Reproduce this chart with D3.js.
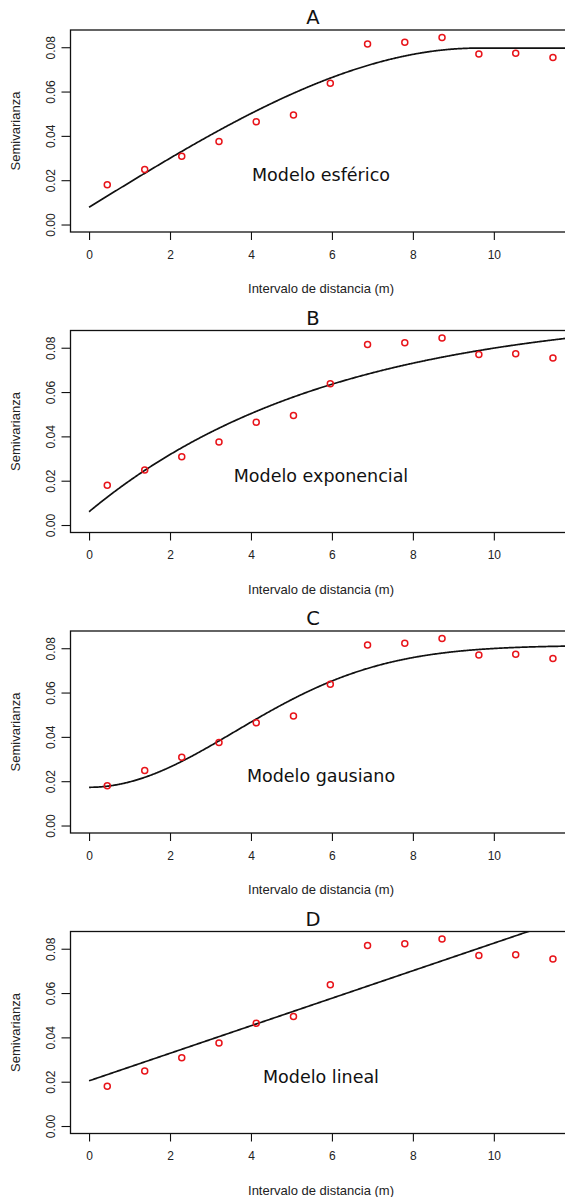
<!DOCTYPE html>
<html>
<head>
<meta charset="utf-8">
<script src="https://cdn.jsdelivr.net/npm/d3@7"></script>
<style>
  html, body { margin: 0; padding: 0; background: #fff; }
  svg { display: block; }
</style>
</head>
<body>
<svg id="chart" width="565" height="1197"></svg>
<script>
// Empirical semivariogram: lag distance (m) and semivariance
const lags = [0.45, 1.375, 2.29, 3.21, 4.13, 5.05, 5.96, 6.88, 7.80, 8.72, 9.63, 10.54, 11.46];
const semivariance = [0.0180, 0.0248, 0.0308, 0.0375, 0.0464, 0.0494, 0.0638, 0.0815, 0.0823, 0.0844, 0.0769, 0.0773, 0.0754];

// Fitted variogram models, one per panel
const panelTitles = ["A", "B", "C", "D"];
const modelNames = ["Modelo esférico", "Modelo exponencial", "Modelo gausiano", "Modelo lineal"];
const modelTypes = ["Sph", "Exp", "Gau", "Lin"];
const nugget = [0.0078, 0.0060, 0.01725, 0.0204];
const partialSill = [0.0718, 0.091, 0.064, 0];
const modelRange = [9.6, 6.0, 5.1, 0];
const linearSlope = [0, 0, 0, 0.00621];

// Axis ticks
const xTicks = [0, 2, 4, 6, 8, 10];
const yTicks = [0.00, 0.02, 0.04, 0.06, 0.08];

const xLabel = "Intervalo de distancia (m)";
const yLabel = "Semivarianza";

function variogram(type, i, h) {
  const c0 = nugget[i], c = partialSill[i], a = modelRange[i];
  if (type === "Sph") {
    if (h >= a) return c0 + c;
    const r = h / a;
    return c0 + c * (1.5 * r - 0.5 * r * r * r);
  }
  if (type === "Exp") return c0 + c * (1 - Math.exp(-h / a));
  if (type === "Gau") return c0 + c * (1 - Math.exp(-(h / a) * (h / a)));
  return c0 + linearSlope[i] * h;
}

const svg = d3.select("#chart");
const boxLeft = 70.5, boxRight = 571.5, boxHeight = 202;
const panelStep = 300.5, firstTop = 30;

// R-style 4% padding around the data range
const xMax = d3.max(lags), yMax = d3.max(semivariance);
const xDomain = [0 - 0.04 * xMax, xMax * 1.04];
const yDomain = [0 - 0.04 * yMax, yMax * 1.04];

const axisFont = "'Liberation Sans', Arial, Helvetica, sans-serif";
const textFont = "'DejaVu Sans', Verdana, sans-serif";

panelTitles.forEach((title, i) => {
  const top = firstTop + i * panelStep;
  const bottom = top + boxHeight;
  const x = d3.scaleLinear().domain(xDomain).range([boxLeft, boxRight]);
  const y = d3.scaleLinear().domain(yDomain).range([bottom, top]);

  const g = svg.append("g");

  const clipId = "clip" + i;
  svg.append("clipPath").attr("id", clipId)
    .append("rect")
    .attr("x", boxLeft).attr("y", top)
    .attr("width", boxRight - boxLeft).attr("height", boxHeight);

  // Model curve
  const hs = d3.range(0, xDomain[1] + 0.001, 0.02);
  const line = d3.line()
    .x(h => x(h))
    .y(h => y(variogram(modelTypes[i], i, h)));
  g.append("path")
    .attr("clip-path", `url(#${clipId})`)
    .attr("d", line(hs))
    .attr("fill", "none")
    .attr("stroke", "#111")
    .attr("stroke-width", 1.7);

  // Empirical points
  g.selectAll("circle.pt")
    .data(lags.map((l, k) => [l, semivariance[k]]))
    .join("circle")
    .attr("class", "pt")
    .attr("cx", d => x(d[0]))
    .attr("cy", d => y(d[1]))
    .attr("r", 3)
    .attr("fill", "none")
    .attr("stroke", "#e8141a")
    .attr("stroke-width", 1.5);

  // Plot box
  g.append("rect")
    .attr("x", boxLeft).attr("y", top)
    .attr("width", boxRight - boxLeft).attr("height", boxHeight)
    .attr("fill", "none")
    .attr("stroke", "#111")
    .attr("stroke-width", 1.3);

  // X axis
  const xAxis = d3.axisBottom(x).tickValues(xTicks).tickSize(8).tickPadding(10)
    .tickFormat(d3.format("d"));
  const gx = g.append("g").attr("transform", `translate(0,${bottom})`).call(xAxis);
  gx.select(".domain").remove();
  gx.selectAll(".tick line").attr("stroke", "#111").attr("stroke-width", 1.1);
  gx.selectAll(".tick text")
    .attr("font-family", axisFont).attr("font-size", 12).attr("fill", "#222");

  // Y axis
  const yAxis = d3.axisLeft(y).tickValues(yTicks).tickSize(9).tickFormat(d3.format(".2f"));
  const gy = g.append("g").attr("transform", `translate(${boxLeft},0)`).call(yAxis);
  gy.select(".domain").remove();
  gy.selectAll(".tick line").attr("stroke", "#111").attr("stroke-width", 1.1);
  gy.selectAll(".tick text")
    .attr("x", null).attr("dy", null)
    .attr("transform", `translate(-16,0) rotate(-90)`)
    .attr("text-anchor", "middle")
    .attr("font-family", axisFont).attr("font-size", 12).attr("fill", "#222");

  // Axis titles
  g.append("text")
    .attr("x", (boxLeft + boxRight) / 2).attr("y", top + 263)
    .attr("text-anchor", "middle")
    .attr("font-family", axisFont).attr("font-size", 13).attr("fill", "#222")
    .text(xLabel);
  g.append("text")
    .attr("transform", `translate(20,${top + boxHeight / 2}) rotate(-90)`)
    .attr("text-anchor", "middle")
    .attr("font-family", axisFont).attr("font-size", 13).attr("fill", "#222")
    .text(yLabel);

  // Panel letter
  g.append("text")
    .attr("x", 313).attr("y", top - 6)
    .attr("text-anchor", "middle")
    .attr("font-family", textFont).attr("font-size", 19.5).attr("fill", "#111")
    .text(title);

  // Model name
  g.append("text")
    .attr("x", (boxLeft + boxRight) / 2).attr("y", top + 151)
    .attr("text-anchor", "middle")
    .attr("font-family", textFont).attr("font-size", 17.5).attr("fill", "#111")
    .text(modelNames[i]);
});
</script>
</body>
</html>
